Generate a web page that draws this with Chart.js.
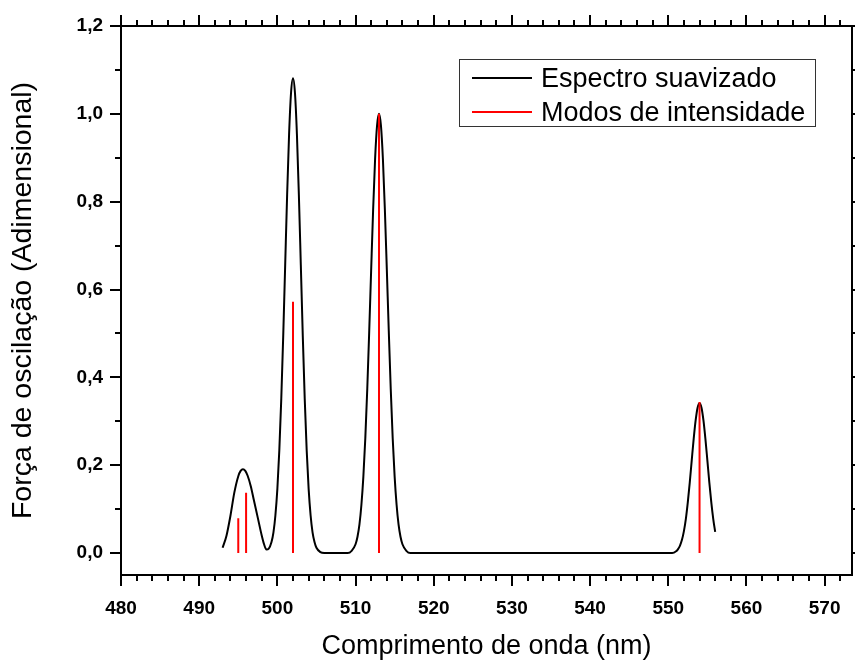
<!DOCTYPE html>
<html lang="pt">
<head>
  <meta charset="UTF-8">
  <title>Espectro suavizado</title>
  <script src="https://cdn.jsdelivr.net/npm/chart.js"></script>
  <style>
    body { margin: 0; background: #fff; }
    .wrap { position: relative; width: 855px; height: 660px; }
    .legend {
      position: absolute; left: 459px; top: 59px; width: 355px; height: 66px;
      border: 1px solid #333; background: #fff;
      font-family: "Liberation Sans", Arial, sans-serif; font-size: 27px; color: #000;
    }
    .legend .row { position: absolute; left: 0; height: 32px; line-height: 32px; white-space: nowrap; }
    .legend .swatch { position: absolute; left: 12px; top: 15px; width: 60px; height: 2px; }
    .legend .txt { position: absolute; left: 81px; top: 0; }
  </style>
</head>
<body>
  <div class="wrap">
    <canvas id="chart" width="855" height="660"></canvas>
    <div class="legend" id="legend"></div>
  </div>

  <script>
    // eixo x (nm) e eixo y
    const xTicks = [480, 490, 500, 510, 520, 530, 540, 550, 560, 570];
    const yTicks = [0, 0.2, 0.4, 0.6, 0.8, 1.0, 1.2];
    const yTickLabels = ['0,0', '0,2', '0,4', '0,6', '0,8', '1,0', '1,2'];

    // espectro suavizado
    const specX = [493.0, 493.5, 494.0, 494.5, 495.0, 495.3, 495.6, 495.9, 496.2, 496.6, 497.0, 497.5,
      498.0, 498.3, 498.6, 498.9, 499.25, 499.5, 499.75, 500.0, 500.25, 500.5, 500.75, 501.0,
      501.25, 501.5, 501.75, 502.0, 502.25, 502.5, 502.75, 503.0, 503.25, 503.5, 503.75, 504.0,
      504.25, 504.5, 504.75, 505.0, 505.5, 506.0, 509.0, 509.5, 510.0, 510.25, 510.5, 510.75,
      511.0, 511.25, 511.5, 511.75, 512.0, 512.25, 512.5, 512.75, 513.0, 513.25, 513.5, 513.75,
      514.0, 514.25, 514.5, 514.75, 515.0, 515.25, 515.5, 515.75, 516.0, 516.5, 517.0, 550.5,
      551.0, 551.25, 551.5, 551.75, 552.0, 552.25, 552.5, 552.75, 553.0, 553.25, 553.5, 553.75,
      554.0, 554.25, 554.5, 554.75, 555.0, 555.25, 555.5, 555.75, 556.0];
    const specY = [0.012, 0.040, 0.085, 0.138, 0.175, 0.187, 0.191, 0.187, 0.176, 0.152, 0.120, 0.080,
      0.040, 0.020, 0.008, 0.010, 0.025, 0.047, 0.086, 0.146, 0.234, 0.351, 0.495, 0.656,
      0.816, 0.954, 1.048, 1.081, 1.048, 0.954, 0.816, 0.656, 0.495, 0.351, 0.234, 0.146,
      0.086, 0.047, 0.025, 0.012, 0.002, 0.000, 0.000, 0.005, 0.020, 0.037, 0.065, 0.110,
      0.174, 0.262, 0.374, 0.506, 0.646, 0.782, 0.897, 0.973, 1.000, 0.973, 0.897, 0.782,
      0.646, 0.506, 0.374, 0.262, 0.174, 0.110, 0.065, 0.037, 0.020, 0.005, 0.000, 0.000,
      0.004, 0.009, 0.017, 0.030, 0.050, 0.078, 0.116, 0.161, 0.211, 0.260, 0.302, 0.331,
      0.341, 0.331, 0.302, 0.260, 0.211, 0.161, 0.116, 0.078, 0.048];

    // modos de intensidade (barras verticais)
    const modeX = [495.0, 496.0, 502.0, 513.0, 554.0];
    const modeY = [0.079, 0.137, 0.572, 1.0, 0.344];

    const FONT = '"Liberation Sans", Arial, sans-serif';

    const specData = specX.map((x, i) => ({ x: x, y: specY[i] }));
    const modeData = [];
    modeX.forEach((x, i) => {
      modeData.push({ x: x, y: 0 }, { x: x, y: modeY[i] }, { x: x, y: null });
    });

    // moldura + ticks (maiores e menores) nos quatro lados
    const framePlugin = {
      id: 'frame',
      afterDraw(chart) {
        const { ctx, chartArea: { left, right, top, bottom }, scales: { x, y } } = chart;
        ctx.save();
        ctx.strokeStyle = '#000';
        ctx.lineWidth = 2;
        ctx.strokeRect(left, top, right - left, bottom - top);
        ctx.beginPath();
        for (let v = x.min; v <= x.max; v += 2) {
          const px = Math.round(x.getPixelForValue(v));
          const len = v % 10 === 0 ? 11 : 6;
          ctx.moveTo(px, bottom); ctx.lineTo(px, bottom + len);
          ctx.moveTo(px, top); ctx.lineTo(px, top - len);
        }
        for (let k = 0; k <= 12; k++) {
          const py = Math.round(y.getPixelForValue(k / 10));
          const len = k % 2 === 0 ? 11 : 6;
          ctx.moveTo(left, py); ctx.lineTo(left - len, py);
          ctx.moveTo(right, py); ctx.lineTo(right + len, py);
        }
        ctx.stroke();
        ctx.restore();
      }
    };

    const chart = new Chart(document.getElementById('chart'), {
      type: 'line',
      data: {
        datasets: [
          {
            label: 'Espectro suavizado',
            data: specData,
            borderColor: '#000000',
            borderWidth: 2,
            pointRadius: 0,
            cubicInterpolationMode: 'monotone',
            order: 2
          },
          {
            label: 'Modos de intensidade',
            data: modeData,
            borderColor: '#ff0000',
            borderWidth: 2,
            pointRadius: 0,
            tension: 0,
            spanGaps: false,
            order: 1
          }
        ]
      },
      options: {
        responsive: false,
        animation: false,
        layout: { padding: { top: 26, right: 3, left: 0, bottom: 0 } },
        plugins: { legend: { display: false }, tooltip: { enabled: false } },
        scales: {
          x: {
            type: 'linear',
            min: 480,
            max: 573.5,
            afterBuildTicks: s => { s.ticks = xTicks.map(v => ({ value: v })); },
            afterFit: s => { s.height = 85; s.paddingLeft = 0; s.paddingRight = 0; },
            grid: { display: false, drawTicks: false },
            border: { display: false },
            ticks: {
              autoSkip: false, maxRotation: 0, padding: 22, color: '#000',
              font: { family: FONT, size: 19, weight: 'bold' }
            },
            title: {
              display: true, text: 'Comprimento de onda (nm)', color: '#000',
              padding: { top: 0, bottom: 0 },
              font: { family: FONT, size: 27, lineHeight: 1 }
            }
          },
          y: {
            min: -0.05,
            max: 1.2,
            afterBuildTicks: s => { s.ticks = yTicks.map(v => ({ value: v })); },
            afterFit: s => { s.width = 121; s.paddingTop = 0; s.paddingBottom = 0; },
            grid: { display: false, drawTicks: false },
            border: { display: false },
            ticks: {
              padding: 18, color: '#000',
              font: { family: FONT, size: 19, weight: 'bold' },
              callback: (v, i) => yTickLabels[i]
            },
            title: {
              display: true, text: 'Força de oscilação (Adimensional)', color: '#000',
              padding: { top: 6, bottom: 0 },
              font: { family: FONT, size: 28.5 }
            }
          }
        }
      },
      plugins: [framePlugin]
    });

    // legenda com moldura, montada a partir dos datasets
    const legend = document.getElementById('legend');
    chart.data.datasets.forEach((ds, i) => {
      const row = document.createElement('div');
      row.className = 'row';
      row.style.top = (2 + i * 34) + 'px';
      row.innerHTML = '<span class="swatch" style="background:' + ds.borderColor + '"></span>' +
        '<span class="txt">' + ds.label + '</span>';
      legend.appendChild(row);
    });
  </script>
</body>
</html>
